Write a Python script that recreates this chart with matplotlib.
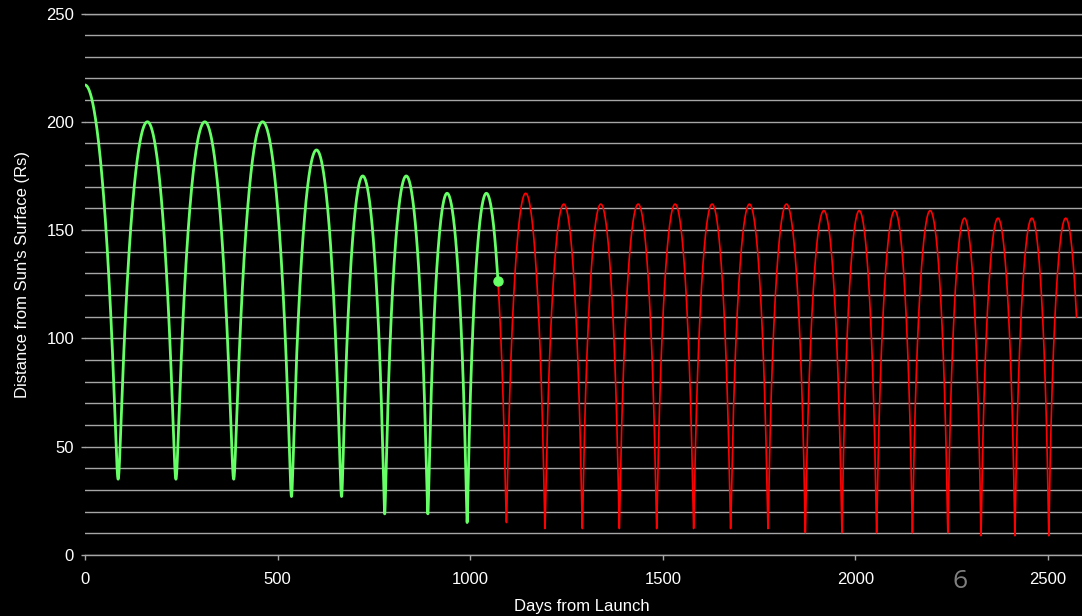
import numpy as np
import matplotlib
matplotlib.use('Agg')
import matplotlib.pyplot as plt

# orbit turning points (days from launch, Rs above the surface)
start_day = 0
start_dist = 217
peri_days = [86, 236, 386, 536, 666, 778, 890, 992, 1094, 1194, 1291, 1387,
             1484, 1580, 1676, 1773, 1870, 1965, 2055, 2148, 2240, 2326, 2414, 2502, 2590]
peri_dist = [35, 35, 35, 27, 27, 19, 19, 15, 15, 12.2, 12.2, 12.2,
             12.2, 12.2, 12.2, 12.2, 10.3, 10.3, 10.3, 10.3, 10.3, 8.9, 8.9, 8.9, 8.9]
aph_days = [162, 311, 461, 601, 721, 834, 940, 1042, 1144, 1243, 1339, 1436,
            1532, 1628, 1725, 1821, 1918, 2010, 2102, 2194, 2283, 2370, 2458, 2546]
aph_dist = [200, 200, 200, 187, 175, 175, 167, 167, 167, 162, 162, 162,
            162, 162, 162, 162, 159, 159, 159, 159, 155.5, 155.5, 155.5, 155.5]
today_day = 1072   # green (flown) ends here, red (planned) goes on
end_day = 2574

x_ticks = [0, 500, 1000, 1500, 2000, 2500]
y_ticks = [0, 50, 100, 150, 200, 250]

# merge perihelia and aphelia into one list of turning points
ev_days = [start_day]
ev_dist = [start_dist]
for i in range(len(peri_days)):
    ev_days.append(peri_days[i])
    ev_dist.append(peri_dist[i])
    if i < len(aph_days):
        ev_days.append(aph_days[i])
        ev_dist.append(aph_dist[i])
ev_days = np.array(ev_days, dtype=float)
ev_dist = np.array(ev_dist, dtype=float)


def orbit_dist(t):
    # Kepler motion between two turning points, distances from sun centre = value + 1
    idx = np.clip(np.searchsorted(ev_days, t, side='right') - 1, 0, len(ev_days) - 2)
    t0, t1 = ev_days[idx], ev_days[idx + 1]
    v0, v1 = ev_dist[idx], ev_dist[idx + 1]
    lo = np.minimum(v0, v1) + 1
    hi = np.maximum(v0, v1) + 1
    a = (lo + hi) / 2
    e = (hi - lo) / (hi + lo)
    frac = (t - t0) / (t1 - t0)
    M = np.where(v0 < v1, np.pi * frac, np.pi * (1 - frac))
    E = np.full_like(M, np.pi)
    for _ in range(60):
        E = E - (E - e * np.sin(E) - M) / (1 - e * np.cos(E))
    return a * (1 - e * np.cos(E)) - 1


days = np.linspace(start_day, end_day, 20000)
days = np.unique(np.concatenate([days, ev_days[ev_days <= end_day], [today_day]]))
dist = orbit_dist(days)
past = days <= today_day
future = days >= today_day

plt.rcParams['font.family'] = ['Liberation Sans', 'DejaVu Sans']
grid_col = '#a6a6a6'

fig = plt.figure(figsize=(10.82, 6.16), dpi=100, facecolor='black')
ax = fig.add_axes([85 / 1082, 61 / 616, 997 / 1082, 541.5 / 616])
ax.set_facecolor('black')

ax.plot(days[future], dist[future], color='#ff0000', lw=1.2, zorder=3)
ax.plot(days[past], dist[past], color='#66ff66', lw=2.0, zorder=4)
ax.plot([today_day], orbit_dist(np.array([today_day], dtype=float)), 'o',
        color='#66ff66', ms=6.5, zorder=5)

ax.set_xlim(0, 997 / 0.3852)
ax.set_ylim(0, 250)
ax.set_xticks(x_ticks)
ax.set_yticks(y_ticks)
ax.set_yticks(np.arange(0, 251, 10), minor=True)
ax.grid(which='both', axis='y', color=grid_col, lw=1.0, zorder=1)
ax.grid(False, axis='x')
ax.tick_params(axis='y', which='major', length=3.1, width=1, color=grid_col,
               labelcolor='white', labelsize=12, pad=4.8)
ax.tick_params(axis='y', which='minor', length=0)
ax.tick_params(axis='x', length=3.6, width=1, color=grid_col,
               labelcolor='white', labelsize=12, pad=9)
for side in ['left', 'right']:
    ax.spines[side].set_visible(False)
for side in ['top', 'bottom']:
    ax.spines[side].set_color(grid_col)
    ax.spines[side].set_linewidth(1.0)

fig.text(23 / 1082, 1 - 275 / 616, "Distance from Sun's Surface (Rs)", rotation=90,
         ha='center', va='center', color='white', fontsize=12)
fig.text(582 / 1082, 1 - 606 / 616, 'Days from Launch', ha='center', va='center',
         color='white', fontsize=12)
fig.text(960 / 1082, 1 - 582 / 616, '6', ha='center', va='center', color='#7f7f7f',
         fontsize=19, family=['Open Sans', 'DejaVu Sans'])

fig.savefig('out.png', dpi=100, facecolor='black')
